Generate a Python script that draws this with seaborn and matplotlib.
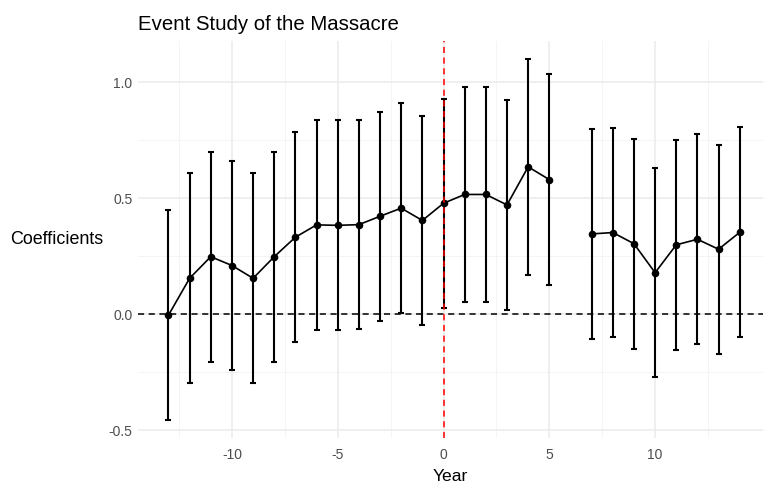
import numpy as np
import pandas as pd
import matplotlib
matplotlib.use("Agg")
import matplotlib.pyplot as plt
import seaborn as sns

years = [-13, -12, -11, -10, -9, -8, -7, -6, -5, -4, -3, -2, -1, 0, 1, 2, 3, 4, 5,
         7, 8, 9, 10, 11, 12, 13, 14]
coef = [-0.004, 0.155, 0.248, 0.210, 0.155, 0.248, 0.332, 0.385, 0.383, 0.386, 0.422,
        0.457, 0.404, 0.478, 0.516, 0.516, 0.471, 0.635, 0.580,
        0.346, 0.352, 0.304, 0.179, 0.299, 0.323, 0.280, 0.353]
upper = [0.447, 0.608, 0.698, 0.662, 0.608, 0.698, 0.784, 0.836, 0.835, 0.838, 0.873,
         0.909, 0.855, 0.927, 0.978, 0.978, 0.922, 1.099, 1.033,
         0.796, 0.804, 0.756, 0.632, 0.751, 0.776, 0.731, 0.806]
lower = [-0.455, -0.295, -0.204, -0.241, -0.295, -0.204, -0.119, -0.066, -0.068, -0.065, -0.030,
         0.004, -0.047, 0.026, 0.052, 0.052, 0.020, 0.171, 0.128,
         -0.105, -0.098, -0.148, -0.272, -0.154, -0.128, -0.171, -0.097]
segment = [0] * 19 + [1] * 8

x_ticks = [-10, -5, 0, 5, 10]
y_ticks = [-0.5, 0.0, 0.5, 1.0]

df = pd.DataFrame({"Year": years, "Coefficients": coef, "upper": upper,
                   "lower": lower, "segment": segment})

sns.set_style("white")
plt.rcParams["font.family"] = ["Liberation Sans", "DejaVu Sans"]

fig = plt.figure(figsize=(7.63, 4.84), dpi=100)
W, H = 763, 484
ax = fig.add_axes([138 / W, 1 - 438 / H, (763 - 138) / W, (438 - 41) / H])

# grid
for v in [-12.5, -7.5, -2.5, 2.5, 7.5, 12.5]:
    ax.axvline(v, color="#F2F2F2", lw=0.6, zorder=0)
for v in [-0.25, 0.25, 0.75]:
    ax.axhline(v, color="#F2F2F2", lw=0.6, zorder=0)
for v in x_ticks:
    ax.axvline(v, color="#EBEBEB", lw=1.1, zorder=0)
for v in y_ticks:
    ax.axhline(v, color="#EBEBEB", lw=1.1, zorder=0)

ax.axhline(0, color="black", lw=1.1, ls=(0, (4, 3)), zorder=1)

c = np.array(coef)
ax.errorbar(df["Year"], df["Coefficients"],
            yerr=[c - np.array(lower), np.array(upper) - c],
            fmt="none", ecolor="black", elinewidth=1.5, capsize=2.2, capthick=1.5, zorder=2)

sns.lineplot(data=df, x="Year", y="Coefficients", units="segment", estimator=None,
             color="black", lw=1.2, ax=ax, zorder=3)
sns.scatterplot(data=df, x="Year", y="Coefficients", color="black", s=30,
                edgecolor="black", linewidth=0, ax=ax, zorder=4)

ax.axvline(0, color="red", lw=1.1, ls=(0, (4, 3)), zorder=5)

ax.set_xlim(-14.44, 15.1)
ax.set_ylim(-0.533, 1.177)
ax.set_xticks(x_ticks)
ax.set_xticklabels([str(v) for v in x_ticks])
ax.set_yticks(y_ticks)
ax.set_yticklabels([f"{v:.1f}" for v in y_ticks])
ax.tick_params(axis="both", length=0, labelsize=10, labelcolor="#4D4D4D")
ax.tick_params(axis="x", pad=7.5)
ax.tick_params(axis="y", pad=4)
for s in ax.spines.values():
    s.set_visible(False)

ax.set_title("Event Study of the Massacre", loc="left", fontsize=14.7, color="black", pad=8)
ax.set_xlabel("Year", fontsize=12.6, color="black", labelpad=5)
ax.set_ylabel("Coefficients", fontsize=12.9, color="black", rotation=0,
              ha="right", va="center")
ax.yaxis.set_label_coords(-0.056, 0.5)

fig.savefig("out.png", dpi=100)
